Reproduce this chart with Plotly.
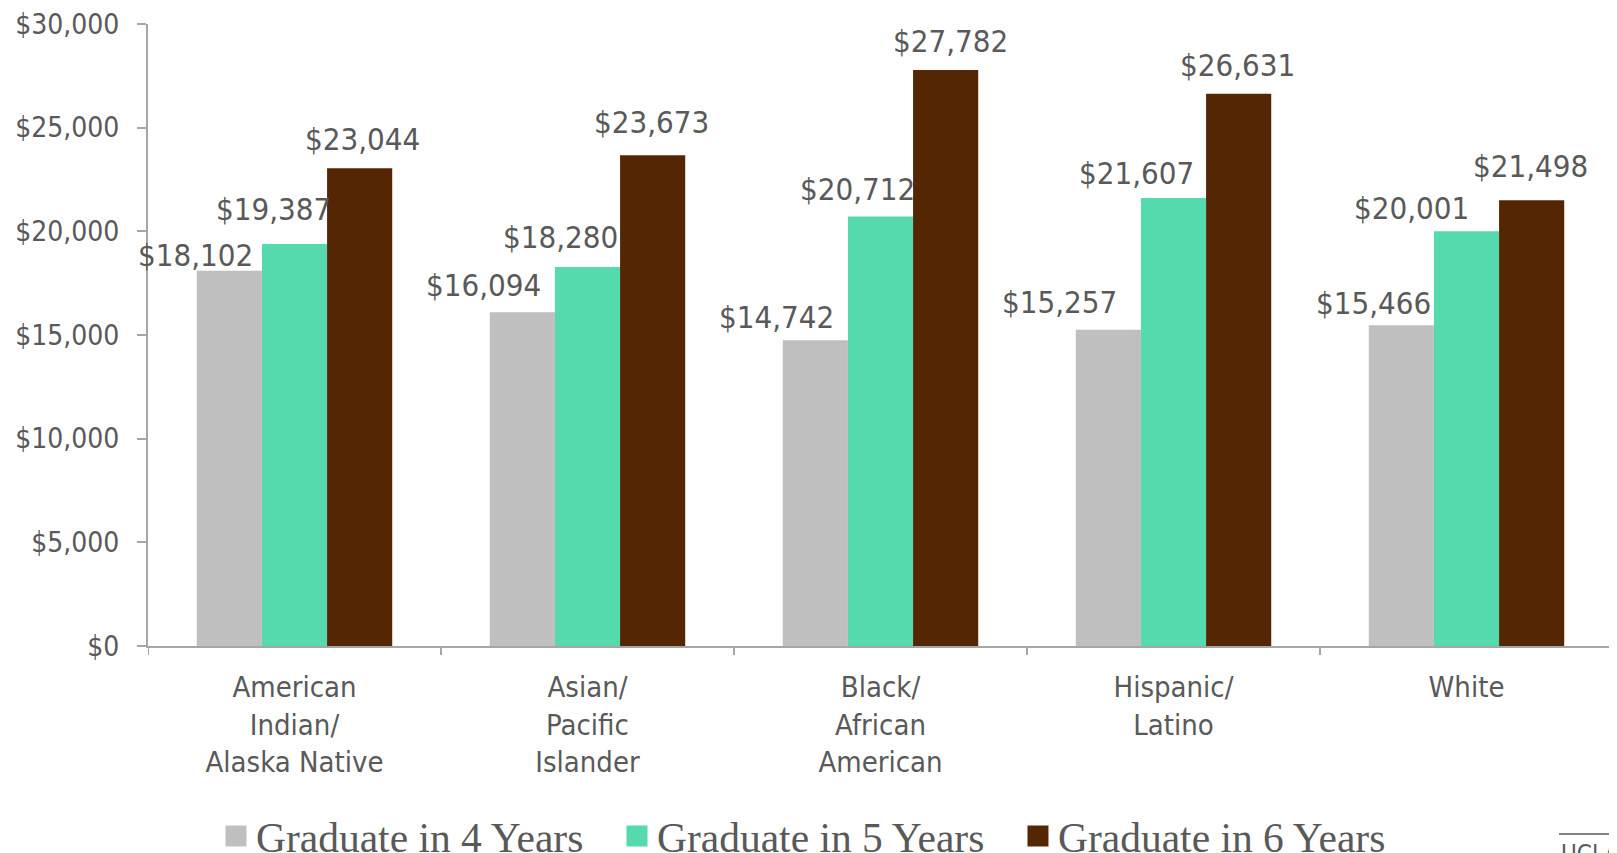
import plotly.graph_objects as go

# ---- data ----
categories = ["American<br>Indian/<br>Alaska Native", "Asian/<br>Pacific<br>Islander",
              "Black/<br>African<br>American", "Hispanic/<br>Latino", "White"]
series_names = ["Graduate in 4 Years", "Graduate in 5 Years", "Graduate in 6 Years"]
grad_4_years = [18102, 16094, 14742, 15257, 15466]
grad_5_years = [19387, 18280, 20712, 21607, 20001]
grad_6_years = [23044, 23673, 27782, 26631, 21498]
y_tick_values = [0, 5000, 10000, 15000, 20000, 25000, 30000]
y_tick_labels = ["$0", "$5,000", "$10,000", "$15,000", "$20,000", "$25,000", "$30,000"]

# ---- styling ----
colors = ["#BFBFBF", "#55DAAE", "#552604"]
text_color = "#595959"
axis_color = "#A6A6A6"
label_font = "DejaVu Sans Condensed, Noto Sans, sans-serif"

# manual label nudges (pixels) relative to category centre / bar top, as in the source
label_dx = [[-99, -104, -104, -114, -93],
            [-21, -27, -23, -37, -55],
            [68, 64, 70, 64, 64]]
label_dy = [[16, 27, 23, 28, 22],
            [35, 30, 28, 25, 23],
            [29, 33, 29, 29, 34]]

series = [grad_4_years, grad_5_years, grad_6_years]
x_idx = list(range(len(categories)))

# figure geometry (page has an 8px body margin)
W, H = 1609, 845
ML, MR, MT, MB = 140, 4, 16, 207
PH = H - MT - MB
PW = W - ML - MR

fig = go.Figure()
for name, vals, col in zip(series_names, series, colors):
    fig.add_trace(go.Bar(x=x_idx, y=vals, name=name, marker=dict(color=col, line=dict(width=0)),
                         showlegend=False, hoverinfo="x+y"))
# legend entries with larger square symbols
for name, col in zip(series_names, colors):
    fig.add_trace(go.Scatter(x=[None], y=[None], mode="markers", name=name,
                             marker=dict(symbol="square", size=16, color=col,
                                         line=dict(color=col, width=5))))

annotations = []
for s, vals in enumerate(series):
    for i, v in enumerate(vals):
        annotations.append(dict(x=i, y=v, xref="x", yref="y", text="${:,}".format(v),
                                showarrow=False, xanchor="center", yanchor="middle",
                                xshift=label_dx[s][i], yshift=label_dy[s][i],
                                font=dict(family=label_font, size=31, color=text_color)))

line_y = -(826 - MT - PH) / PH  # page y 834 -> fig y 826
annotations.append(dict(x=(1551 - ML) / PW, y=-(830 - MT - PH) / PH, xref="paper", yref="paper",
                        text="UCLA", showarrow=False, xanchor="left", yanchor="top",
                        font=dict(family=label_font, size=24, color=text_color)))

fig.update_layout(
    width=W, height=H,
    margin=dict(l=ML, r=MR, t=MT, b=MB, autoexpand=False),
    paper_bgcolor="white", plot_bgcolor="white",
    barmode="group", bargap=0.333, bargroupgap=0,
    annotations=annotations,
    shapes=[dict(type="line", xref="paper", yref="paper",
                 x0=(1551 - ML) / PW, x1=1.01, y0=line_y, y1=line_y,
                 line=dict(color=text_color, width=1.5))],
    legend=dict(orientation="h", xref="container", yref="container", x=0.5031, xanchor="center",
                y=0.020, yanchor="middle", entrywidth=356, entrywidthmode="pixels",
                font=dict(family="Liberation Serif, serif", size=41.5, color=text_color),
                bgcolor="rgba(0,0,0,0)"),
    xaxis=dict(type="linear", tickmode="array", tickvals=x_idx, ticktext=categories,
               range=[-0.5, len(categories) - 0.5], showline=True, linecolor=axis_color, linewidth=2,
               ticks="", showgrid=False, zeroline=False, ticklabelstandoff=14,
               tickfont=dict(family=label_font, size=29, color=text_color)),
    yaxis=dict(range=[0, 30000], tickmode="array", tickvals=y_tick_values, ticktext=y_tick_labels,
               showline=True, linecolor=axis_color, linewidth=2,
               ticks="outside", ticklen=9, tickwidth=2, tickcolor=axis_color,
               showgrid=False, zeroline=False, ticklabelstandoff=12, ticklabeloverflow="allow",
               tickfont=dict(family=label_font, size=28, color=text_color)),
)

# category boundary ticks on x axis
boundaries = [i - 0.5 for i in range(len(categories) + 1)]
for b in boundaries:
    fig.add_shape(type="line", xref="x", yref="paper", x0=b, x1=b, y0=0, y1=-9 / PH,
                  line=dict(color=axis_color, width=2))

fig.write_html("out.html")
